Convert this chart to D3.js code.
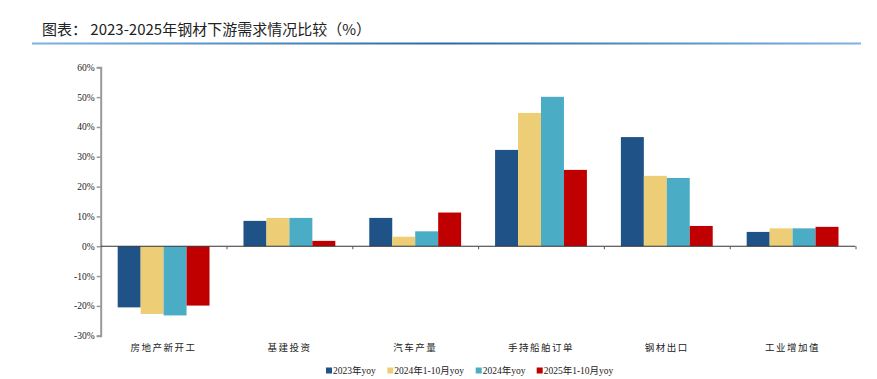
<!DOCTYPE html>
<html><head><meta charset="utf-8">
<script src="https://cdn.jsdelivr.net/npm/d3@7"></script>
<style>body{margin:0;background:#fff}svg{display:block}</style>
</head><body><svg id="c" width="877" height="379"></svg>
<script>
const categories = ["房地产新开工","基建投资","汽车产量","手持船舶订单","钢材出口","工业增加值"];
const seriesNames = ["2023年yoy","2024年1-10月yoy","2024年yoy","2025年1-10月yoy"];
const s2023 = [-20.5, 8.5, 9.5, 32.3, 36.6, 4.8];
const s2024_10 = [-22.7, 9.5, 3.2, 44.7, 23.6, 6.0];
const s2024 = [-23.2, 9.5, 5.0, 50.1, 22.9, 6.0];
const s2025_10 = [-19.9, 1.8, 11.3, 25.6, 6.8, 6.5];
const yTicks = [-30,-20,-10,0,10,20,30,40,50,60];
const colors = ["#1F5286","#EDCD76","#4BACC6","#C00000"];

const series = [s2023, s2024_10, s2024, s2025_10];
const svg = d3.select("#c");
const defs = svg.append("defs");
const g = defs.append("linearGradient").attr("id","tl").attr("x1","0").attr("x2","1");
g.append("stop").attr("offset","0").attr("stop-color","#7fb3de");
g.append("stop").attr("offset","0.5").attr("stop-color","#2a6aa8");
g.append("stop").attr("offset","1").attr("stop-color","#7fb3de");

svg.append("text").attr("x",42).attr("y",35).attr("font-family","'Noto Sans CJK SC','Noto Sans',sans-serif")
  .attr("font-size",15).attr("fill","#222").text("图表：  2023-2025年钢材下游需求情况比较（%）");
svg.append("rect").attr("x",32).attr("y",42.5).attr("width",829).attr("height",2).attr("fill","url(#tl)");

const left = 100.7, right = 855.5;
const y = d3.scaleLinear().domain([-30,60]).range([335.7,67.3]);
const x0 = d3.scaleBand().domain(categories).range([left,right]).paddingInner(0.27).paddingOuter(0.135);
const x1 = d3.scaleBand().domain(d3.range(4)).range([0,x0.bandwidth()]);

const gBars = svg.append("g");
series.forEach((s,si)=>{
  gBars.selectAll(null).data(s).enter().append("rect")
    .attr("x",(d,i)=>x0(categories[i])+x1(si))
    .attr("width",x1.bandwidth())
    .attr("y",d=>y(Math.max(0,d)))
    .attr("height",d=>Math.abs(y(d)-y(0)))
    .attr("fill",colors[si]);
});

// y axis
const ya = svg.append("g").attr("transform",`translate(${left},0)`)
  .call(d3.axisLeft(y).tickValues(yTicks).tickSize(4).tickFormat(d=>d+"%"));
ya.select(".domain").attr("stroke","#999").attr("stroke-width",2);
ya.selectAll(".tick line").attr("stroke","#999").attr("stroke-width",1.5);
ya.selectAll("text").attr("font-family","'Liberation Serif','Times New Roman',serif").attr("font-size",9.5).attr("fill","#222").attr("x",-6);

// x axis at zero
const xb = d3.scaleLinear().domain([0,6]).range([left,right]);
const xa = svg.append("g").attr("transform",`translate(0,${y(0)})`)
  .call(d3.axisBottom(xb).tickValues(d3.range(1,7)).tickSize(3).tickFormat(""));
xa.select(".domain").attr("stroke","#333").attr("stroke-width",1.2).attr("d",`M${left},0H${right}`);
xa.selectAll(".tick line").attr("stroke","#555");

// category labels
svg.append("g").selectAll("text").data(categories).enter().append("text")
  .attr("x",d=>x0(d)+x0.bandwidth()/2).attr("y",351)
  .attr("text-anchor","middle").attr("font-family","'Noto Sans CJK SC',sans-serif")
  .attr("font-size",9.5).attr("letter-spacing",1.5).attr("fill","#222").text(d=>d);

// legend
const legX = [326, 387.3, 475.7, 536.7];
const lg = svg.append("g");
seriesNames.forEach((n,i)=>{
  lg.append("rect").attr("x",legX[i]).attr("y",367.5).attr("width",6).attr("height",6).attr("fill",colors[i]);
  lg.append("text").attr("x",legX[i]+7).attr("y",374).attr("font-family","'Liberation Serif','Noto Sans CJK SC',serif")
    .attr("font-size",9.5).attr("fill","#222").text(n);
});
</script></body></html>
